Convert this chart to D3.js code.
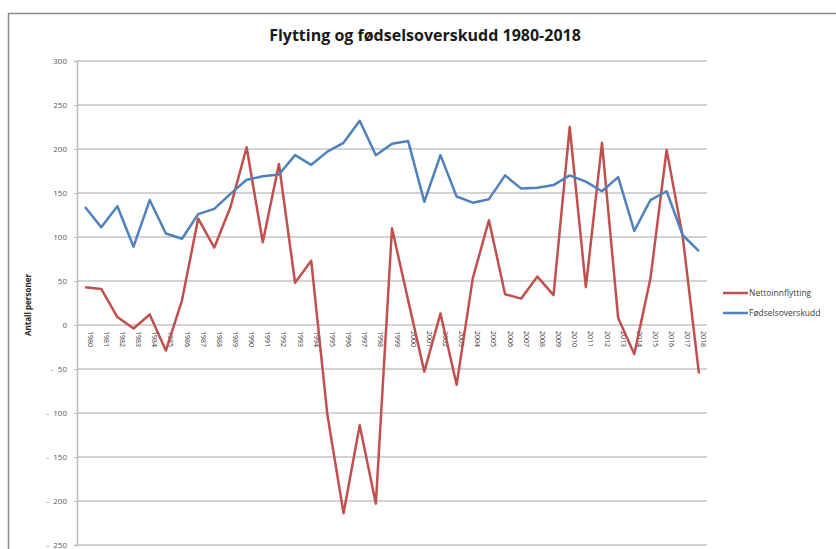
<!DOCTYPE html>
<html>
<head>
<meta charset="utf-8">
<script src="https://cdn.jsdelivr.net/npm/d3@7"></script>
<style>
  html, body { margin: 0; padding: 0; background: #fff; }
  #chart { width: 836px; height: 549px; }
  text { font-family: "Open Sans", "Liberation Sans", sans-serif; }
</style>
</head>
<body>
<div id="chart"></div>
<script>
const years = ["1980","1981","1982","1983","1984","1985","1986","1987","1988","1989",
  "1990","1991","1992","1993","1994","1995","1996","1997","1998","1999",
  "2000","2001","2002","2003","2004","2005","2006","2007","2008","2009",
  "2010","2011","2012","2013","2014","2015","2016","2017","2018"];

const nettoinnflytting = [43, 41, 9, -4, 12, -29, 28, 121, 88, 134,
  202, 94, 183, 48, 73, -102, -214, -114, -203, 110,
  28, -53, 13, -68, 53, 119, 35, 30, 55, 34,
  225, 43, 207, 8, -33, 53, 199, 100, -55];

const fodselsoverskudd = [134, 111, 135, 89, 142, 104, 98, 126, 132, 149,
  165, 169, 171, 193, 182, 197, 207, 232, 193, 206,
  209, 140, 193, 146, 139, 143, 170, 155, 156, 159,
  170, 163, 152, 168, 107, 142, 152, 102, 84];

const yTicks = [300, 250, 200, 150, 100, 50, 0, -50, -100, -150, -200, -250];

const seriesNames = ["Nettoinnflytting", "Fødselsoverskudd"];
const seriesColors = ["#c0504d", "#4f81bd"];

function draw() {
  const w = 836, h = 549;
  const plot = { left: 77, right: 707, top: 61, bottom: 545 };

  const svg = d3.select("#chart").append("svg")
    .attr("width", w)
    .attr("height", h);

  // outer chart border
  svg.append("rect")
    .attr("x", 8.5).attr("y", 13.5)
    .attr("width", w + 10).attr("height", h + 10)
    .attr("fill", "none")
    .attr("stroke", "#8c8c8c")
    .attr("stroke-width", 1.5);

  svg.append("text")
    .attr("x", 425)
    .attr("y", 41)
    .attr("text-anchor", "middle")
    .attr("font-size", 16)
    .attr("font-weight", "bold")
    .attr("fill", "#1a1a1a")
    .text("Flytting og fødselsoverskudd 1980-2018");

  const x = d3.scalePoint()
    .domain(years)
    .range([plot.left, plot.right])
    .padding(0.5);

  const y = d3.scaleLinear()
    .domain([-250, 300])
    .range([plot.bottom, plot.top]);

  // gridlines
  svg.append("g")
    .selectAll("line")
    .data(yTicks)
    .join("line")
    .attr("x1", plot.left)
    .attr("x2", plot.right)
    .attr("y1", d => y(d))
    .attr("y2", d => y(d))
    .attr("stroke", "#c4c4c4")
    .attr("stroke-width", 1.5);

  // left axis
  const yAxis = svg.append("g")
    .attr("transform", `translate(${plot.left},0)`)
    .call(d3.axisLeft(y).tickValues(yTicks).tickSize(3)
      .tickFormat(d => d < 0 ? `-  ${Math.abs(d)}` : `${d}`));
  yAxis.select(".domain").attr("stroke", "#bdbdbd").attr("stroke-width", 1.5);
  yAxis.selectAll(".tick line").attr("stroke", "#bdbdbd");
  yAxis.selectAll(".tick text")
    .attr("x", -10)
    .attr("font-size", 8)
    .attr("fill", "#595959")
    .style("white-space", "pre")
    .style("font-family", "'Open Sans', sans-serif");

  svg.append("text")
    .attr("transform", `translate(31,305) rotate(-90)`)
    .attr("text-anchor", "middle")
    .attr("font-size", 8)
    .attr("font-weight", "bold")
    .attr("fill", "#262626")
    .text("Antall personer");

  // category labels under the zero line
  svg.append("g")
    .selectAll("text")
    .data(years)
    .join("text")
    .attr("transform", d => `translate(${x(d) + 2.5},${y(0) + 6}) rotate(90)`)
    .attr("font-size", 7)
    .attr("fill", "#404040")
    .text(d => d);

  const line = d3.line()
    .x((d, i) => x(years[i]))
    .y(d => y(d));

  [nettoinnflytting, fodselsoverskudd].forEach((vals, k) => {
    svg.append("path")
      .datum(vals)
      .attr("fill", "none")
      .attr("stroke", seriesColors[k])
      .attr("stroke-width", 2.5)
      .attr("stroke-linejoin", "round")
      .attr("d", line);
  });

  // legend
  const legend = svg.append("g")
    .selectAll("g")
    .data(seriesNames)
    .join("g")
    .attr("transform", (d, i) => `translate(723,${293 + i * 20})`);
  legend.append("line")
    .attr("x1", 0).attr("x2", 25)
    .attr("stroke", (d, i) => seriesColors[i])
    .attr("stroke-width", 2.5);
  legend.append("text")
    .attr("x", 26)
    .attr("y", 3)
    .attr("font-size", 8.5)
    .attr("fill", "#404040")
    .text(d => d);
}

draw();
</script>
</body>
</html>
